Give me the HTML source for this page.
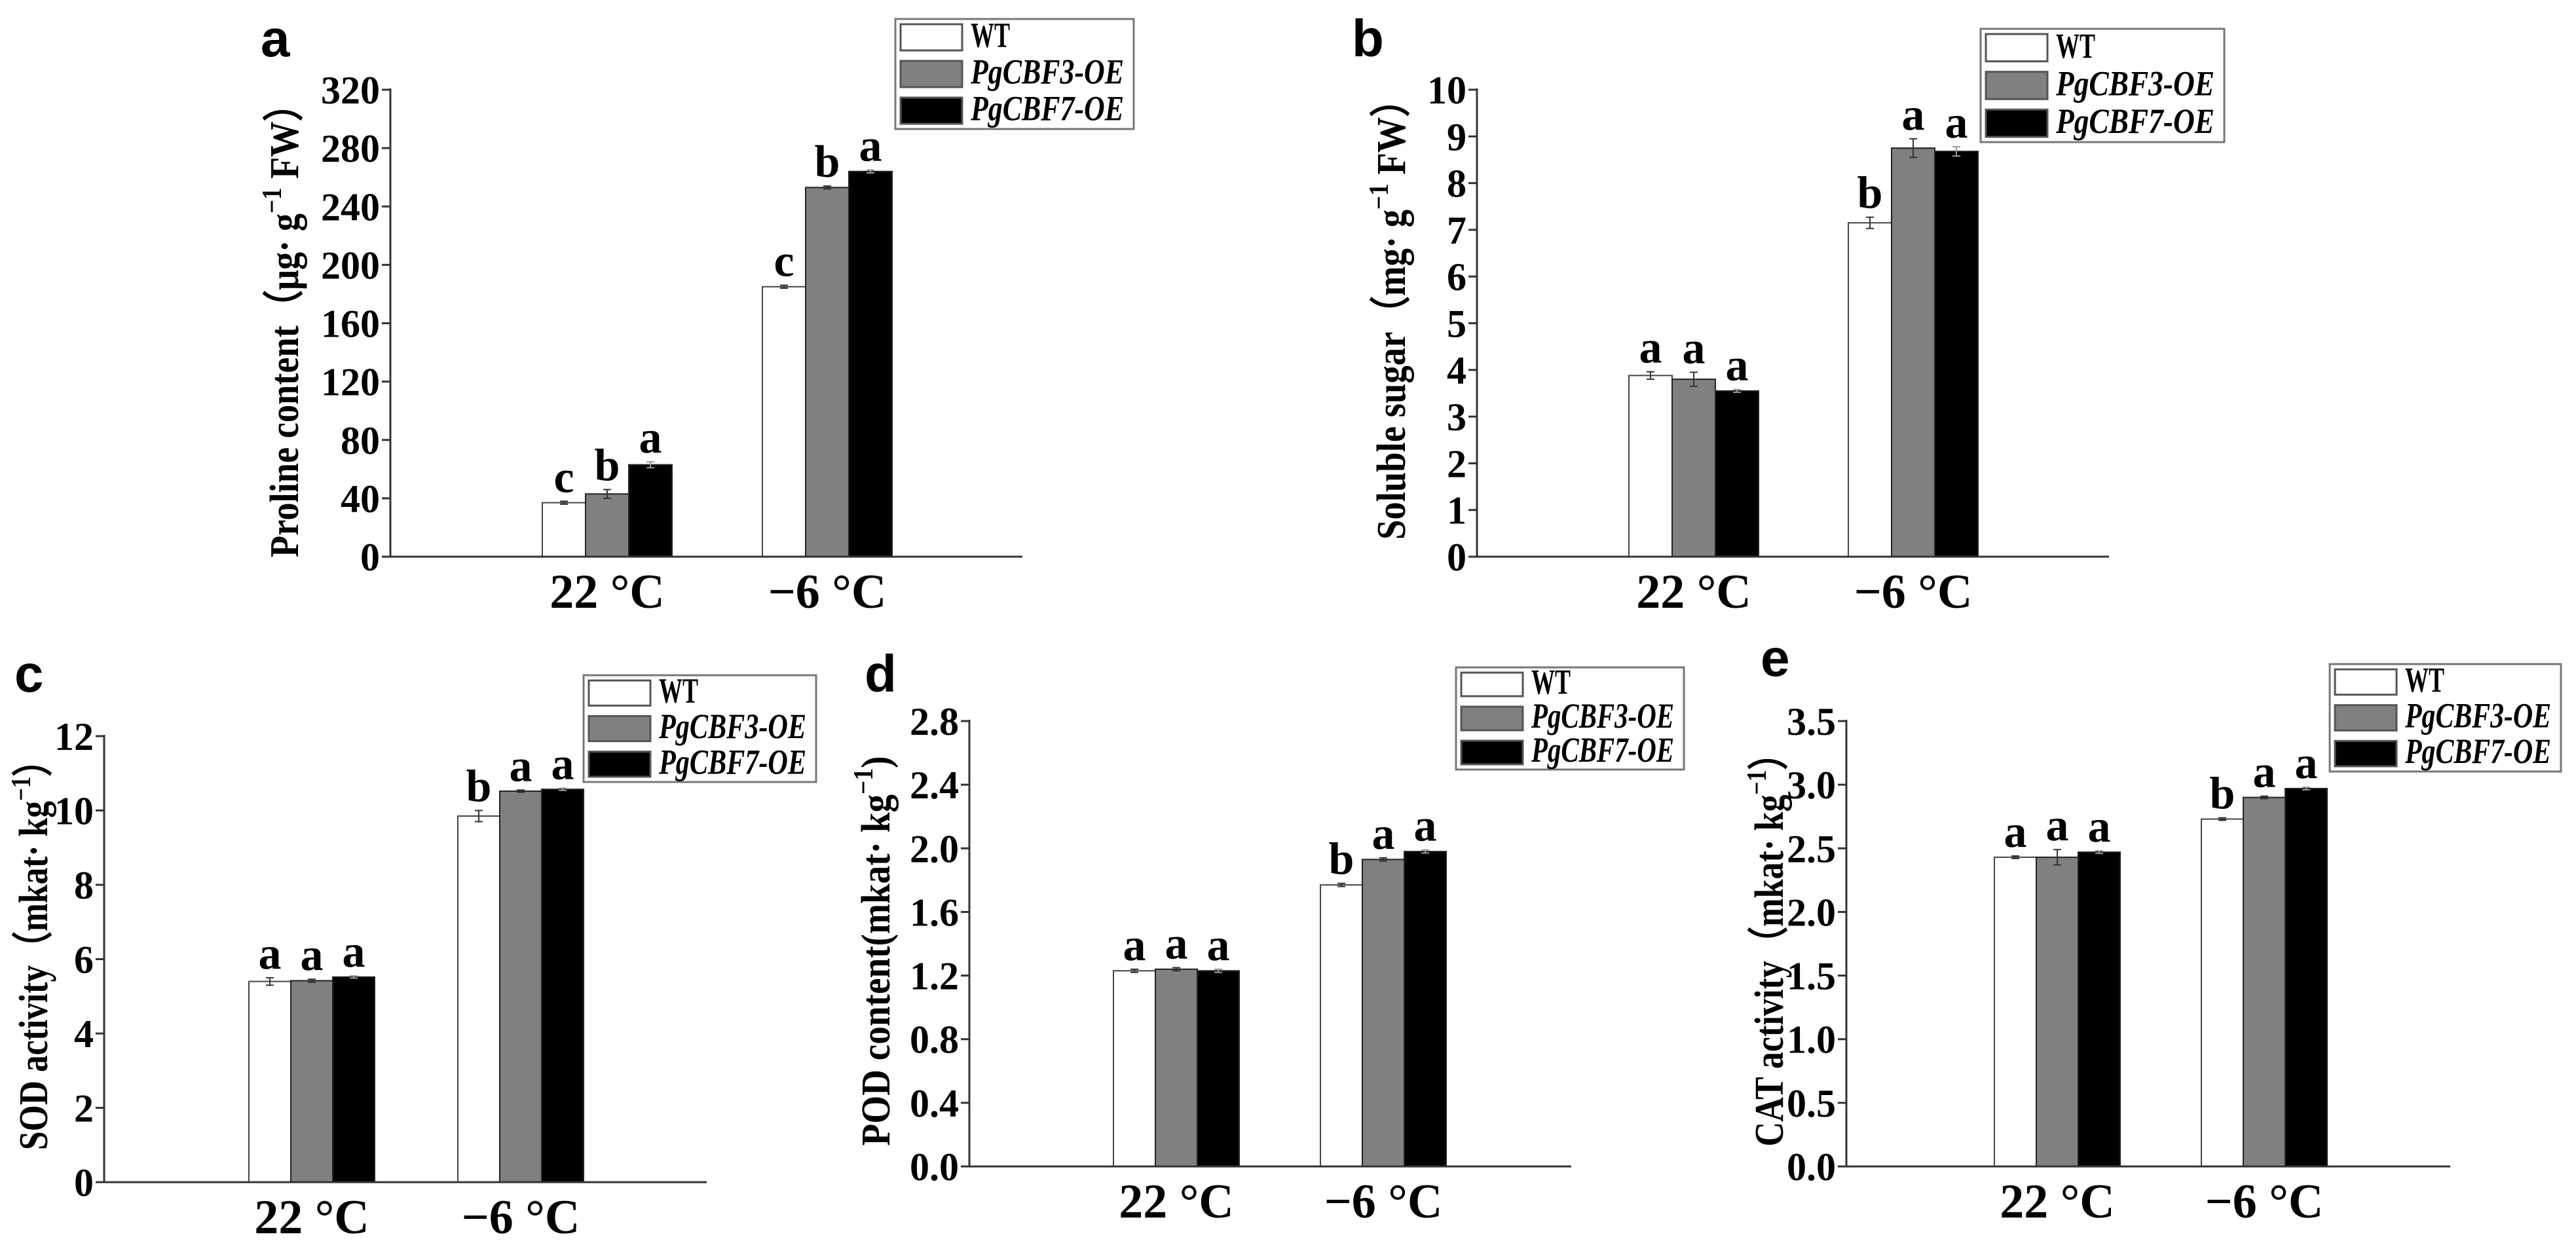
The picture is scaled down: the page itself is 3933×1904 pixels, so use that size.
<!DOCTYPE html>
<html><head><meta charset="utf-8"><style>
html,body{margin:0;padding:0;background:#fff;}
svg{display:block;}
text{font-family:"Liberation Serif",serif;font-weight:bold;}
</style></head><body>
<svg id="fig" width="3933" height="1904" viewBox="0 0 3933 1904" xmlns="http://www.w3.org/2000/svg"></svg>
<script>
const groups = ["22 °C", "−6 °C"];
const seriesNames = ["WT", "PgCBF3-OE", "PgCBF7-OE"];
// panel a: proline
const aWT = [37, 185];
const aCBF3 = [43, 253];
const aCBF7 = [63, 264];
const aErr = [[1, 1], [3, 1], [2, 1]];
const aSig = [["c", "c"], ["b", "b"], ["a", "a"]];
const aTicks = [0, 40, 80, 120, 160, 200, 240, 280, 320];
// panel b: soluble sugar
const bWT = [3.88, 7.15];
const bCBF3 = [3.8, 8.75];
const bCBF7 = [3.55, 8.68];
const bErr = [[0.08, 0.12], [0.15, 0.2], [0.03, 0.1]];
const bSig = [["a", "b"], ["a", "a"], ["a", "a"]];
const bTicks = [0, 1, 2, 3, 4, 5, 6, 7, 8, 9, 10];
// panel c: SOD
const cWT = [5.4, 9.85];
const cCBF3 = [5.42, 10.52];
const cCBF7 = [5.52, 10.57];
const cErr = [[0.1, 0.15], [0.04, 0.03], [0.03, 0.03]];
const cSig = [["a", "b"], ["a", "a"], ["a", "a"]];
const cTicks = [0, 2, 4, 6, 8, 10, 12];
// panel d: POD
const dWT = [1.23, 1.77];
const dCBF3 = [1.24, 1.93];
const dCBF7 = [1.23, 1.98];
const dErr = [[0.01, 0.01], [0.01, 0.01], [0.01, 0.01]];
const dSig = [["a", "b"], ["a", "a"], ["a", "a"]];
const dTicks = [0.0, 0.4, 0.8, 1.2, 1.6, 2.0, 2.4, 2.8];
// panel e: CAT
const eWT = [2.43, 2.73];
const eCBF3 = [2.43, 2.9];
const eCBF7 = [2.47, 2.97];
const eErr = [[0.01, 0.01], [0.06, 0.01], [0.01, 0.01]];
const eSig = [["a", "b"], ["a", "a"], ["a", "a"]];
const eTicks = [0.0, 0.5, 1.0, 1.5, 2.0, 2.5, 3.0, 3.5];

const NS = "http://www.w3.org/2000/svg";
const svg = document.getElementById("fig");
function mk(tag, attrs, parent) {
  const e = document.createElementNS(NS, tag);
  for (const k in attrs) e.setAttribute(k, attrs[k]);
  (parent || svg).appendChild(e);
  return e;
}
const fills = ["#ffffff", "#808080", "#000000"];

function panel(p) {
  const g = mk("g", {});
  
  
  const ymax = p.ticks[p.ticks.length - 1];
  const Y = v => p.y0 - (v / ymax) * (p.y0 - p.yTop);
  // panel letter
  const pl = mk("text", {x: p.lx, y: p.ly, "font-size": 80, style: "font-family:'Liberation Sans',sans-serif;font-weight:bold"}, g);
  pl.textContent = p.id;
  
  
  // bars
  const series = p.series;
  for (let gi = 0; gi < groups.length; gi++) {
    for (let si = 0; si < 3; si++) {
      const v = series[si][gi];
      const x = p.gx[gi] + si * p.bw;
      const yt = Y(v);
      const r = mk("rect", {x: x, y: yt, width: p.bw, height: p.y0 - yt, fill: fills[si], stroke: si === 0 ? "#444" : "#222", "stroke-width": 2}, g);
      
      
      const e = p.err[si][gi];
      const cx = x + p.bw / 2;
      const ec = si === 2 ? "#999" : "#333";
      mk("line", {x1: cx, x2: cx, y1: Y(v + e), y2: Y(v - e), stroke: ec, "stroke-width": 2}, g);
      mk("line", {x1: cx - 6, x2: cx + 6, y1: Y(v + e), y2: Y(v + e), stroke: ec, "stroke-width": 2}, g);
      mk("line", {x1: cx - 6, x2: cx + 6, y1: Y(v - e), y2: Y(v - e), stroke: ec, "stroke-width": 2}, g);
      const t = mk("text", {x: cx, y: Y(v + e) - 14, "font-size": 70, "text-anchor": "middle", transform: ""}, g);
      t.textContent = p.sig[si][gi];
      
      
    }
    const xl = mk("text", {x: p.gx[gi] + 1.5 * p.bw, y: p.y0 + 78, "font-size": 74, "text-anchor": "middle"}, g);
    xl.textContent = groups[gi];
    
    
  }
  // axes
  const ya = mk("line", {x1: p.ax, x2: p.ax, y1: p.yTop - 2, y2: p.y0, stroke: "#333", "stroke-width": 3}, g);
  
  
  const xa = mk("line", {x1: p.ax, x2: p.axEnd, y1: p.y0, y2: p.y0, stroke: "#333", "stroke-width": 3}, g);
  
  
  p.ticks.forEach(tv => {
    const yy = Y(tv);
    mk("line", {x1: p.ax - 13, x2: p.ax, y1: yy, y2: yy, stroke: "#333", "stroke-width": 3}, g);
    const t = mk("text", {x: p.ax - 16, y: yy + 21, "font-size": 60, "text-anchor": "end"}, g);
    t.textContent = p.dec ? tv.toFixed(1) : String(tv);
    
    
  });
  // y title
  const yt = mk("text", {x: 0, y: 0, "font-size": 62, "text-anchor": "middle", textLength: p.tl, lengthAdjust: "spacingAndGlyphs",
    transform: "translate(" + (p.tx + 22) + "," + p.tc + ") rotate(-90)"}, g);
  
  
  const t1 = mk("tspan", {}, yt); t1.textContent = p.t1;
  const t2 = mk("tspan", {dy: -26, "font-size": 42}, yt); t2.textContent = "−1";
  const t3 = mk("tspan", {dy: 26}, yt); t3.textContent = p.t2;
  // legend
  const L = p.leg;
  const lg = mk("g", {}, g);
  
  
  mk("rect", {x: L[0], y: L[1], width: L[2] - L[0], height: L[3] - L[1], fill: "#fff", stroke: "#777", "stroke-width": 3}, lg);
  const rh = (L[3] - L[1]) / 3;
  for (let si = 0; si < 3; si++) {
    const ry = L[1] + 8 + si * rh;
    const sw = mk("rect", {x: L[0] + 8, y: ry, width: 94, height: rh - 16, fill: fills[si], stroke: "#555", "stroke-width": 3}, lg);
    
    
    const lt = mk("text", {x: L[0] + 115, y: ry + rh * 0.62, "font-size": 54, "font-style": si ? "italic" : "normal",
      textLength: si ? (L[2] - L[0] - 130) : 60, lengthAdjust: "spacingAndGlyphs"}, lg);
    lt.textContent = seriesNames[si];
    
    
  }
}

panel({id: "a", series: [aWT, aCBF3, aCBF7], err: aErr, sig: aSig, ticks: aTicks, dec: false,
  ax: 596, axEnd: 1561, yTop: 137, y0: 850, gx: [828, 1164], bw: 66, lx: 398, ly: 86,
  tx: 433, tc: 491, tl: 720, t1: "Proline content（μg· g", t2: " FW）", leg: [1367, 29, 1731, 197]});
panel({id: "b", series: [bWT, bCBF3, bCBF7], err: bErr, sig: bSig, ticks: bTicks, dec: false,
  ax: 2255, axEnd: 3220, yTop: 137, y0: 850, gx: [2487, 2822], bw: 66, lx: 2064, ly: 86,
  tx: 2123, tc: 474, tl: 700, t1: "Soluble sugar（mg· g", t2: " FW）", leg: [3024, 44, 3396, 217]});
panel({id: "c", series: [cWT, cCBF3, cCBF7], err: cErr, sig: cSig, ticks: cTicks, dec: false,
  ax: 159, axEnd: 1079, yTop: 1124, y0: 1805, gx: [380, 699], bw: 64, lx: 22, ly: 1056,
  tx: 50, tc: 1445, tl: 622, t1: "SOD activity（mkat· kg", t2: "）", leg: [891, 1031, 1246, 1194]});
panel({id: "d", series: [dWT, dCBF3, dCBF7], err: dErr, sig: dSig, ticks: dTicks, dec: true,
  ax: 1480, axEnd: 2399, yTop: 1101, y0: 1781, gx: [1700, 2016], bw: 64, lx: 1320, ly: 1056,
  tx: 1336, tc: 1452, tl: 595, t1: "POD content(mkat· kg", t2: ")", leg: [2223, 1019, 2571, 1175]});
panel({id: "e", series: [eWT, eCBF3, eCBF7], err: eErr, sig: eSig, ticks: eTicks, dec: true,
  ax: 2819, axEnd: 3741, yTop: 1101, y0: 1781, gx: [3045, 3361], bw: 64, lx: 2688, ly: 1032,
  tx: 2700, tc: 1437, tl: 627, t1: "CAT activity（mkat· kg", t2: "）", leg: [3557, 1014, 3910, 1178]});
</script>
</body></html>
